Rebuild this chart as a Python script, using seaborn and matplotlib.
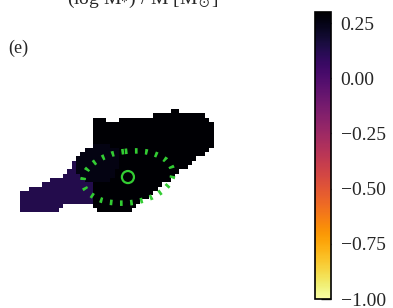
import numpy as np
import matplotlib
matplotlib.use('Agg')
import matplotlib.pyplot as plt
from matplotlib.patches import Ellipse, Circle
import seaborn as sns

# grid size (cells) of the map
n_rows = 60
n_cols = 60

# map values
core_value = 0.30
inner_value = 0.255
tail_value = 0.13

# (row, first col, last col) spans of the detected region
blob_spans = [
    (17, 35, 36), (18, 31, 42), (19, 17, 19), (19, 23, 43),
    (20, 17, 44), (21, 17, 44), (22, 17, 44), (23, 17, 44),
    (24, 17, 44), (25, 17, 44), (26, 15, 43), (27, 14, 42),
    (28, 13, 40), (29, 12, 39), (30, 12, 38), (31, 11, 36),
    (32, 10, 35), (33, 7, 34), (34, 5, 32), (35, 2, 31),
    (36, 0, 30), (37, 0, 29), (38, 0, 27), (39, 0, 9),
    (39, 17, 26), (40, 0, 8), (40, 18, 25),
]
inner_spans = [
    (25, 17, 20), (26, 15, 22), (27, 14, 22), (28, 13, 22),
    (29, 13, 22), (30, 13, 22), (31, 13, 21), (32, 14, 21),
    (33, 15, 20),
]
tail_spans = [
    (29, 12, 12), (30, 12, 12), (31, 11, 12), (32, 10, 13),
    (33, 7, 14), (34, 5, 16), (35, 2, 16), (36, 0, 16),
    (37, 0, 16), (38, 0, 16), (39, 0, 9), (40, 0, 8),
]

# aperture / centre marker (grid units)
ellipse_center = (25.1, 32.8)
ellipse_width = 21.0
ellipse_height = 12.0
ellipse_angle = -7
marker_radius = 1.4

cbar_ticks = [0.25, 0.00, -0.25, -0.50, -0.75, -1.00]
vmin, vmax = -1.0, 0.3

grid = np.full((n_rows, n_cols), np.nan)
for r, c0, c1 in blob_spans:
    grid[r, c0:c1 + 1] = core_value
for r, c0, c1 in inner_spans:
    grid[r, c0:c1 + 1] = inner_value
for r, c0, c1 in tail_spans:
    grid[r, c0:c1 + 1] = tail_value

sns.set_style('white')
plt.rcParams['font.family'] = ['Liberation Serif', 'DejaVu Serif']
plt.rcParams['mathtext.fontset'] = 'stix'

fig = plt.figure(figsize=(3.93, 3.08), dpi=100)
ax = fig.add_axes([20 / 393, 14 / 308, 258 / 393, 258 / 308])
cax = fig.add_axes([315 / 393, 9 / 308, 16 / 393, 287 / 308])

sns.heatmap(grid, ax=ax, cbar_ax=cax, cmap='inferno_r', vmin=vmin, vmax=vmax,
            square=True, xticklabels=False, yticklabels=False)
ax.axis('off')

green = '#33cc33'
ax.add_patch(Ellipse(ellipse_center, ellipse_width, ellipse_height, angle=ellipse_angle,
                     fill=False, edgecolor=green, lw=4.0, linestyle=(0, (0.48, 1.35))))
ax.add_patch(Circle(ellipse_center, marker_radius, fill=False, edgecolor=green, lw=1.6))

cb = ax.collections[0].colorbar
cb.outline.set_linewidth(1.2)
cb.outline.set_edgecolor('black')
cb.set_ticks(cbar_ticks)
cb.ax.set_yticklabels([f'{t:.2f}'.replace('-', '\u2212') for t in cbar_ticks])
cax.tick_params(direction='in', length=7, width=1, labelsize=14, pad=7,
                right=True, left=False)

fig.text(8 / 393, 1 - 53 / 308, '(e)', fontsize=13, va='baseline')
# title line sits above the figure edge, only its lower part shows (as in the source)
fig.text(143 / 393, 1 - 4 / 308, r'(log M$_{*}$) / M [M$_\odot$]',
         fontsize=14, ha='center', va='baseline')

fig.savefig('out.png', dpi=100)
